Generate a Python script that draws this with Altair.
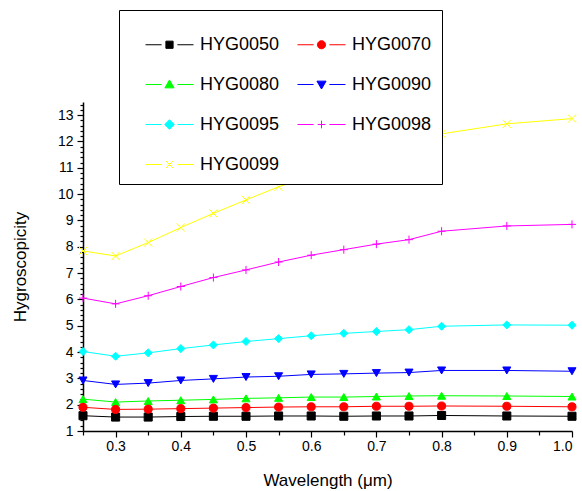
import altair as alt
import pandas as pd

wavelength = [0.25, 0.3, 0.35, 0.4, 0.45, 0.5, 0.55, 0.6, 0.65, 0.7, 0.75, 0.8, 0.9, 1.0]

# legend entries fill column by column, so order the names to read row by row
names = ["HYG0050", "HYG0080", "HYG0095", "HYG0099", "HYG0070", "HYG0090", "HYG0098"]
hyg0050 = [1.58, 1.53, 1.53, 1.55, 1.56, 1.56, 1.57, 1.57, 1.56, 1.57, 1.57, 1.59, 1.57, 1.56]
hyg0080 = [2.21, 2.10, 2.14, 2.17, 2.20, 2.24, 2.26, 2.29, 2.29, 2.31, 2.33, 2.34, 2.33, 2.31]
hyg0095 = [4.02, 3.84, 3.97, 4.13, 4.27, 4.40, 4.51, 4.62, 4.71, 4.78, 4.85, 4.98, 5.03, 5.02]
hyg0099 = [7.84, 7.65, 8.16, 8.73, 9.27, 9.78, 10.28, 10.67, 11.06, 11.51, 11.76, 12.29, 12.67, 12.87]
hyg0070 = [1.90, 1.82, 1.83, 1.85, 1.87, 1.89, 1.91, 1.92, 1.92, 1.94, 1.94, 1.95, 1.94, 1.92]
hyg0090 = [2.92, 2.77, 2.82, 2.92, 2.98, 3.05, 3.08, 3.15, 3.17, 3.20, 3.22, 3.30, 3.30, 3.27]
hyg0098 = [6.05, 5.83, 6.14, 6.49, 6.83, 7.12, 7.42, 7.68, 7.89, 8.10, 8.27, 8.59, 8.79, 8.85]
series = [hyg0050, hyg0080, hyg0095, hyg0099, hyg0070, hyg0090, hyg0098]

y_ticks = [round(1 + 0.2 * i, 1) for i in range(63)]
x_ticks = [round(0.25 + 0.05 * i, 2) for i in range(16)]

colors = ["#000000", "#00ff00", "#00ffff", "#ffff00", "#ff0000", "#0000ff", "#ff00ff"]
fills = ["#000000", "#00ff00", "#00ffff", "transparent", "#ff0000", "#0000ff", "transparent"]
marker_shapes = ["square", "triangle-up", "diamond", "M-1,-1L1,1M-1,1L1,-1",
                 "circle", "triangle-down", "M-1,0H1M0,-1V1"]
seg = "M-1,0H-0.33M0.33,0H1"
legend_shapes = [
    seg + "M-0.15,-0.15H0.15V0.15H-0.15Z",
    seg + "M0,-0.19L0.19,0.14L-0.19,0.14Z",
    seg + "M0,-0.2L0.2,0L0,0.2L-0.2,0Z",
    seg + "M-0.14,-0.14L0.14,0.14M-0.14,0.14L0.14,-0.14",
    seg + "M-0.17,0A0.17,0.17,0,1,1,0.17,0A0.17,0.17,0,1,1,-0.17,0Z",
    seg + "M0,0.19L0.19,-0.14L-0.19,-0.14Z",
    seg + "M-0.16,0H0.16M0,-0.16V0.16",
]
marker_keys = ["m_" + n for n in names]

rows = []
for name, vals in zip(names, series):
    for w, v in zip(wavelength, vals):
        rows.append({"series": name, "marker": "m_" + name, "wavelength": w, "value": v})
df = pd.DataFrame(rows)

FONT = "Liberation Sans"

x_enc = alt.X("wavelength:Q",
              scale=alt.Scale(domain=[0.25, 1.0], nice=False, zero=False),
              axis=alt.Axis(values=x_ticks, title="Wavelength (\u03bcm)",
                            labelExpr="abs(datum.value*10 - round(datum.value*10)) < 1e-6 ? format(datum.value, '.1f') : ''",
                            tickSize={"condition": {"test": "abs(datum.value*10 - round(datum.value*10)) < 1e-6", "value": 6}, "value": 4},
                            labelPadding=2, titlePadding=19, grid=False))
y_enc = alt.Y("value:Q",
              scale=alt.Scale(domain=[1, 13.5], nice=False, zero=False),
              axis=alt.Axis(values=y_ticks, title="Hygroscopicity",
                            labelExpr="abs(datum.value - round(datum.value)) < 1e-6 ? format(datum.value, 'd') : ''",
                            tickSize={"condition": {"test": "abs(datum.value - round(datum.value)) < 1e-6", "value": 6}, "value": 3},
                            labelPadding=4, titlePadding=28, grid=False))

stroke_scale = alt.Scale(domain=names, range=colors)
fill_scale = alt.Scale(domain=names, range=fills)
shape_scale = alt.Scale(domain=marker_keys, range=marker_shapes)

shape_expr = "'" + legend_shapes[-1] + "'"
for n, p in reversed(list(zip(names[:-1], legend_shapes[:-1]))):
    shape_expr = "datum.value === '%s' ? '%s' : (%s)" % (n, p, shape_expr)

legend = alt.Legend(orient="none", legendX=36, legendY=-92, columns=2,
                    title=None,
                    symbolType=alt.ExprRef(expr=shape_expr),
                    symbolSize=2304, symbolStrokeWidth=1, symbolOpacity=1,
                    labelFont=FONT, labelFontSize=18, labelColor="black",
                    strokeColor="black", fillColor="white", padding=10,
                    columnPadding=1, rowPadding=6, labelOffset=6, symbolOffset=16)

lines = alt.Chart(df).mark_line(strokeWidth=1).encode(
    x=x_enc, y=y_enc,
    stroke=alt.Stroke("series:N", scale=stroke_scale, legend=legend),
)

points = alt.Chart(df).mark_point(size=65, strokeWidth=1, opacity=1).encode(
    x=x_enc, y=y_enc,
    stroke=alt.Stroke("series:N", scale=stroke_scale, legend=legend),
    fill=alt.Fill("series:N", scale=fill_scale, legend=legend),
    shape=alt.Shape("marker:N", scale=shape_scale, legend=None),
)

chart = alt.layer(lines, points).properties(
    width=489, height=329,
    autosize=alt.AutoSizeParams(type="none"),
    padding={"left": 83, "top": 102, "right": 10, "bottom": 60},
).configure_view(stroke=None).configure_axis(
    domainColor="black", domainWidth=1.5, tickColor="black", tickWidth=1.2,
    labelFont=FONT, labelFontSize=14, labelColor="black",
    titleFont=FONT, titleFontSize=17, titleFontWeight="normal", titleColor="black",
)

chart.save("out.html", embed_options={"renderer": "svg", "actions": False})
